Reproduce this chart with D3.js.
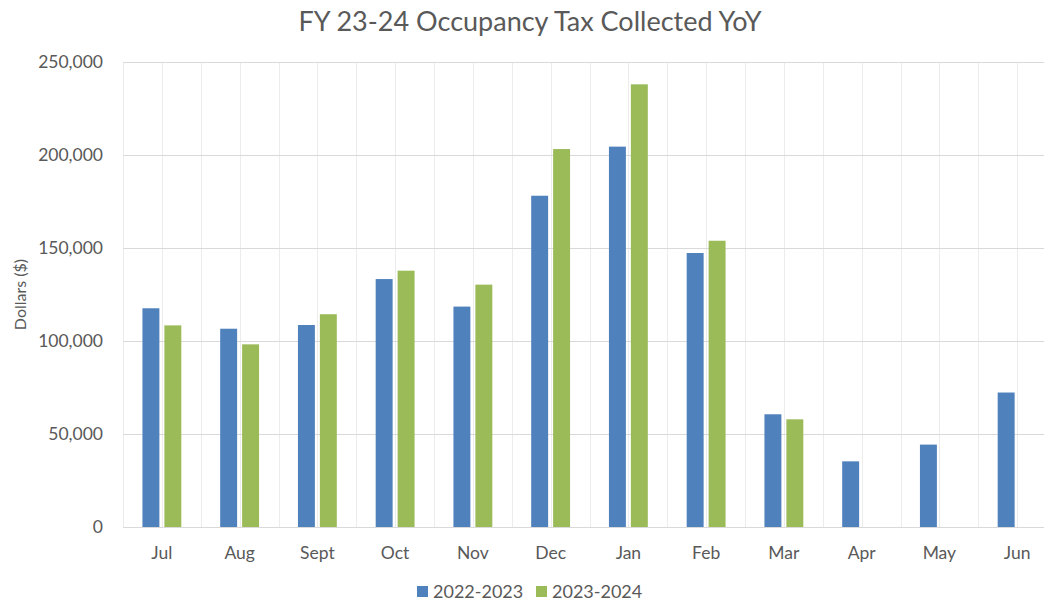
<!DOCTYPE html>
<html>
<head>
<meta charset="utf-8">
<title>FY 23-24 Occupancy Tax Collected YoY</title>
<style>
body { margin: 0; background: #ffffff; }
svg text { font-family: Lato, "Open Sans", sans-serif; fill: #595959; }
.grid line { stroke: #d9d9d9; stroke-width: 1px; shape-rendering: crispEdges; }
.vgrid line { stroke: #ececec; stroke-width: 1px; shape-rendering: crispEdges; }
.axis path, .axis line { display: none; }
</style>
</head>
<body>
<script src="https://cdn.jsdelivr.net/npm/d3@7"></script>
<script>
'use strict';

// data
const months = ['Jul', 'Aug', 'Sept', 'Oct', 'Nov', 'Dec', 'Jan', 'Feb', 'Mar', 'Apr', 'May', 'Jun'];
const seriesNames = ['2022-2023', '2023-2024'];
const fy2223 = [117600, 106600, 108600, 133300, 118500, 178100, 204500, 147300, 60600, 35300, 44300, 72300];
const fy2324 = [108400, 98200, 114400, 137800, 130300, 203200, 238000, 153900, 57900, null, null, null];
const yTicks = [0, 50000, 100000, 150000, 200000, 250000];
const colors = ['#4f81bd', '#9bbb59'];

const W = 1044, H = 602;
const plot = { left: 123, right: 1056, top: 62, bottom: 527 };

const svg = d3.select('body').append('svg')
  .attr('width', W)
  .attr('height', H);

const x0 = d3.scaleBand()
  .domain(months)
  .range([plot.left, plot.right])
  .paddingInner(0.5)
  .paddingOuter(0.25);

const x1 = d3.scaleBand()
  .domain(seriesNames)
  .range([0, x0.bandwidth()])
  .paddingInner(0.2273);

const y = d3.scaleLinear()
  .domain([0, 250000])
  .range([plot.bottom, plot.top]);

// vertical gridlines every half category
const step = x0.step();
const vlines = d3.range(months.length * 2 + 1).map(i => plot.left + i * step / 2);
svg.append('g').attr('class', 'vgrid')
  .selectAll('line').data(vlines).enter().append('line')
  .attr('x1', d => Math.round(d) + 0.5).attr('x2', d => Math.round(d) + 0.5)
  .attr('y1', plot.top).attr('y2', plot.bottom);

// horizontal gridlines
svg.append('g').attr('class', 'grid')
  .selectAll('line').data(yTicks).enter().append('line')
  .attr('x1', plot.left).attr('x2', plot.right)
  .attr('y1', d => Math.round(y(d)) + 0.5).attr('y2', d => Math.round(y(d)) + 0.5);

// y axis
svg.append('g')
  .attr('class', 'axis')
  .attr('transform', 'translate(' + plot.left + ',0)')
  .call(d3.axisLeft(y).tickValues(yTicks).tickSize(0).tickPadding(20).tickFormat(d3.format(',')))
  .selectAll('text')
  .style('font-size', '17.5px');

// x axis
svg.append('g')
  .attr('class', 'axis')
  .attr('transform', 'translate(0,' + plot.bottom + ')')
  .call(d3.axisBottom(x0).tickSize(0).tickPadding(20))
  .selectAll('text')
  .style('font-size', '17.5px');

// bars
const rows = months.map((m, i) => ({ month: m, values: [fy2223[i], fy2324[i]] }));
const groups = svg.append('g').selectAll('g')
  .data(rows).enter().append('g')
  .attr('transform', d => 'translate(' + x0(d.month) + ',0)');

groups.selectAll('rect')
  .data(d => d.values.map((v, j) => ({ key: seriesNames[j], value: v, j: j })).filter(d => d.value != null))
  .enter().append('rect')
  .attr('x', d => x1(d.key))
  .attr('width', x1.bandwidth())
  .attr('y', d => y(d.value))
  .attr('height', d => plot.bottom - y(d.value))
  .attr('fill', d => colors[d.j]);

// title
svg.append('text')
  .attr('x', 530)
  .attr('y', 31)
  .attr('text-anchor', 'middle')
  .style('font-size', '27px')
  .text('FY 23-24 Occupancy Tax Collected YoY');

// y axis title
svg.append('text')
  .attr('transform', 'translate(26,' + (plot.top + plot.bottom) / 2 + ') rotate(-90)')
  .attr('text-anchor', 'middle')
  .style('font-size', '16px')
  .text('Dollars ($)');

// legend
const legend = svg.append('g').attr('transform', 'translate(417,598)');
const items = legend.selectAll('g').data(seriesNames).enter().append('g')
  .attr('transform', (d, i) => 'translate(' + (i * 119) + ',0)');
items.append('rect')
  .attr('x', 0).attr('y', -12).attr('width', 11).attr('height', 11)
  .attr('fill', (d, i) => colors[i]);
items.append('text')
  .attr('x', 16).attr('y', 0)
  .style('font-size', '18px')
  .text(d => d);
</script>
</body>
</html>
